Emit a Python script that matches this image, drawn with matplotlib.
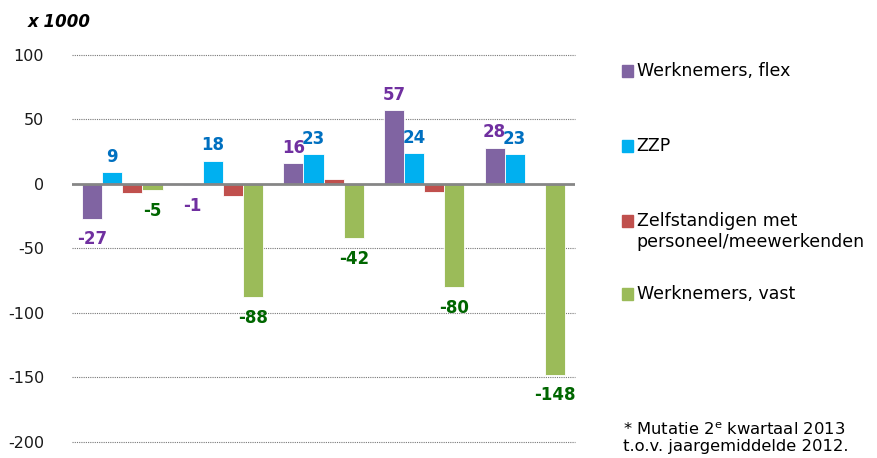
import matplotlib
matplotlib.use('Agg')
import matplotlib.pyplot as plt
import numpy as np

series = ['Werknemers, flex', 'ZZP', 'Zelfstandigen met\npersoneel/meewerkenden', 'Werknemers, vast']
flex = [-27, -1, 16, 57, 28]
zzp = [9, 18, 23, 24, 23]
zelfst = [-7, -9, 4, -6, -1]
vast = [-5, -88, -42, -80, -148]

colors = ['#8064A2', '#00B0F0', '#C0504D', '#9BBB59']
label_colors = ['#7030A0', '#0070C0', None, '#006600']

plt.rcParams['font.family'] = 'DejaVu Sans'
plt.rcParams['axes.unicode_minus'] = False

fig = plt.figure(figsize=(8.78, 4.58), dpi=100)
ax = fig.add_axes([0.082, 0.035, 0.573, 0.845])

x = np.arange(len(flex))
w = 0.2
values = [flex, zzp, zelfst, vast]
for i, vals in enumerate(values):
    pos = x + (i - 1.5) * w
    ax.bar(pos, vals, w, color=colors[i], edgecolor='white', linewidth=0.6, zorder=3)
    if label_colors[i] is None:
        continue
    for p, v in zip(pos, vals):
        if v >= 0:
            ax.text(p, v + 5, str(v), ha='center', va='bottom', fontsize=12,
                    fontweight='bold', color=label_colors[i])
        else:
            ax.text(p, v - 9, str(v), ha='center', va='top', fontsize=12,
                    fontweight='bold', color=label_colors[i])

ax.set_xlim(-0.5, 4.5)
ax.set_ylim(-200, 100)
ax.set_yticks(np.arange(-200, 101, 50))
ax.tick_params(axis='y', length=0, labelsize=11.5, pad=20, labelcolor='#1a1a1a')
ax.set_xticks([])
for s in ax.spines.values():
    s.set_visible(False)
for t in [-200, -150, -100, -50, 50, 100]:
    ax.axhline(t, color='#777777', linestyle=(0, (1, 1)), linewidth=0.8, zorder=1,
               clip_on=False)
ax.axhline(0, color='#868686', linewidth=2, zorder=4)

fig.text(0.032, 0.952, 'x 1000', fontsize=12, fontweight='bold', style='italic',
         ha='left', va='center')

# legend
sq_y = [0.844, 0.681, 0.517, 0.359]
txt_y = [0.844, 0.681, 0.495, 0.359]
for c, lab, sy, ty in zip(colors, series, sq_y, txt_y):
    fig.patches.append(plt.Rectangle((0.708, sy - 0.013), 0.0135, 0.026,
                                     transform=fig.transFigure, color=c))
    fig.text(0.725, ty, lab, fontsize=12.5, ha='left', va='center', linespacing=1.25)

fig.text(0.709, 0.045, '* Mutatie 2$^{\\mathregular{e}}$ kwartaal 2013\nt.o.v. jaargemiddelde 2012.',
         fontsize=11.8, ha='left', va='center', linespacing=1.1)

plt.savefig('out.png', dpi=100)
